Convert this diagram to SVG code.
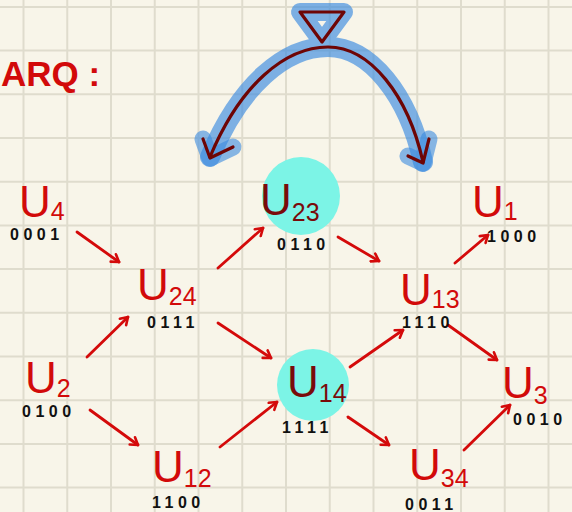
<svg xmlns="http://www.w3.org/2000/svg" width="572" height="512" viewBox="0 0 572 512">
<defs>
<style>
.grid{stroke:#dfdccd;stroke-width:2;fill:none}
.u{font-family:"Liberation Sans",Arial,sans-serif;font-size:44px;fill:#d20a0a}
.u.dk{fill:#7a0a0a}
.sub{font-size:25px}
.bits{font-family:"Liberation Sans",Arial,sans-serif;font-size:16px;font-weight:bold;fill:#111;letter-spacing:4.5px}
.edge{stroke:#d40a0a;stroke-width:2.8;fill:none;stroke-linecap:round}
.hl{stroke:#3a8be0;fill:none;stroke-linecap:round;stroke-linejoin:round}
.dr{stroke:#6e0505;stroke-width:3.2;fill:none;stroke-linecap:round;stroke-linejoin:round}
.halo{fill:#7cf4e6}
</style>
<marker id="ah" viewBox="-10 -6 12 12" refX="0" refY="0" markerWidth="12" markerHeight="12" markerUnits="userSpaceOnUse" orient="auto">
<path d="M-7,-4.5 L0,0 L-7,4.5" fill="none" stroke="#d40a0a" stroke-width="2.6" stroke-linecap="round" stroke-linejoin="round"/>
</marker>
</defs>
<rect width="572" height="512" fill="#f8f5e9"/>
<path class="grid" d="M23.5,0V512M67.25,0V512M111,0V512M154.75,0V512M198.5,0V512M242.25,0V512M286,0V512M329.75,0V512M373.5,0V512M417.25,0V512M461,0V512M504.75,0V512M548.5,0V512M0,6.9H572M0,50.6H572M0,94.3H572M0,138H572M0,181.7H572M0,225.4H572M0,269.1H572M0,312.8H572M0,356.5H572M0,400.2H572M0,443.9H572M0,487.6H572"/>
<text x="1" y="86" font-family="Liberation Sans,Arial,sans-serif" font-size="35" font-weight="bold" fill="#d20a0a">ARQ :</text>
<g id="selector">
<g opacity="0.65">
<polygon class="hl" points="300,12 344,12 322,42" fill="#3a8be0" stroke-width="18"/>
<path class="hl" stroke-width="20" d="M210,157 C240,85 285,47 328,47 C370,47 408,95 423,162"/>
</g>
<g opacity="0.6">
<path class="hl" stroke-width="17" d="M203,139 L210,158 L233,147"/>
<path class="hl" stroke-width="17" d="M429,139 L423,163 L408,156"/>
</g>
<polygon class="dr" points="300,12 344,12 322,42"/>
<path class="dr" d="M210,157 C240,85 285,47 328,47 C370,47 408,95 423,162"/>
<path class="dr" d="M203,139 L210,158 L233,147"/>
<path class="dr" d="M429,139 L423,163 L408,156"/>
</g>
<g id="connectors">
<line class="edge" x1="77" y1="232" x2="119" y2="262" marker-end="url(#ah)"/>
<line class="edge" x1="218" y1="268" x2="263" y2="228" marker-end="url(#ah)"/>
<line class="edge" x1="87" y1="357" x2="128" y2="317" marker-end="url(#ah)"/>
<line class="edge" x1="218" y1="323" x2="271" y2="358" marker-end="url(#ah)"/>
<line class="edge" x1="90" y1="410" x2="138" y2="445" marker-end="url(#ah)"/>
<line class="edge" x1="220" y1="447" x2="277" y2="402" marker-end="url(#ah)"/>
<line class="edge" x1="338" y1="237" x2="379" y2="261" marker-end="url(#ah)"/>
<line class="edge" x1="455" y1="263" x2="488" y2="235" marker-end="url(#ah)"/>
<line class="edge" x1="350" y1="367" x2="403" y2="330" marker-end="url(#ah)"/>
<line class="edge" x1="448" y1="325" x2="497" y2="360" marker-end="url(#ah)"/>
<line class="edge" x1="348" y1="417" x2="389" y2="445" marker-end="url(#ah)"/>
<line class="edge" x1="464" y1="450" x2="510" y2="405" marker-end="url(#ah)"/>
</g>
<g id="U4"><text class="u" x="19" y="217">U<tspan class="sub" dy="3">4</tspan></text><text class="bits" x="10" y="240">0001</text></g>
<g id="U24"><text class="u" x="137" y="300">U<tspan class="sub" dy="5">24</tspan></text><text class="bits" x="147" y="328">0111</text></g>
<g id="U23"><circle class="halo" cx="301" cy="196" r="39"/><text class="u dk" x="260" y="215">U<tspan class="sub" dy="6">23</tspan></text><text class="bits" x="277" y="250">0110</text></g>
<g id="U1"><text class="u" x="472" y="217">U<tspan class="sub" dy="3">1</tspan></text><text class="bits" x="487" y="242">1000</text></g>
<g id="U13"><text class="u" x="400" y="305">U<tspan class="sub" dy="3">13</tspan></text><text class="bits" x="402" y="328">1110</text></g>
<g id="U2"><text class="u" x="25" y="393">U<tspan class="sub" dy="4">2</tspan></text><text class="bits" x="22" y="417">0100</text></g>
<g id="U12"><text class="u" x="152" y="482">U<tspan class="sub" dy="5">12</tspan></text><text class="bits" x="152" y="508">1100</text></g>
<g id="U14"><circle class="halo" cx="313" cy="385" r="36"/><text class="u dk" x="287" y="397">U<tspan class="sub" dy="5">14</tspan></text><text class="bits" x="282" y="433">1111</text></g>
<g id="U34"><text class="u" x="409" y="480">U<tspan class="sub" dy="7">34</tspan></text><text class="bits" x="405" y="510">0011</text></g>
<g id="U3"><text class="u" x="502" y="398">U<tspan class="sub" dy="6">3</tspan></text><text class="bits" x="513" y="425">0010</text></g>
</svg>
